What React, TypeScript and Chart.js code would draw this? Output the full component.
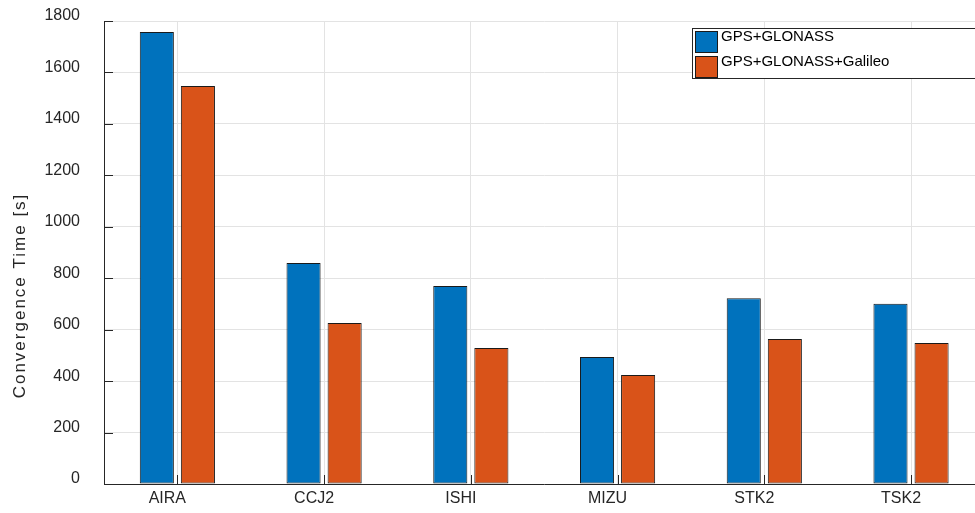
import React, { useEffect, useRef } from "react";
import { Chart, registerables } from "chart.js";

Chart.register(...registerables);

const stations = ["AIRA", "CCJ2", "ISHI", "MIZU", "STK2", "TSK2"];
const seriesNames = ["GPS+GLONASS", "GPS+GLONASS+Galileo"];
const gpsGlonass = [1757, 859, 770, 494, 722, 701];
const gpsGlonassGalileo = [1547, 626, 529, 424, 564, 548];
const yTicks = [0, 200, 400, 600, 800, 1000, 1200, 1400, 1600, 1800];
const yTitle = "Convergence Time [s]";

const BLUE = "#0072BD";
const ORANGE = "#D95319";
const AXIS = "#262626";
const FONT = "'Liberation Sans', Arial, sans-serif";

const innerTicks = {
  id: "innerTicks",
  afterDraw(chart: any) {
    const ctx = chart.ctx;
    const x = chart.scales.x;
    const y = chart.scales.y;
    const area = chart.chartArea;
    ctx.save();
    ctx.strokeStyle = AXIS;
    ctx.lineWidth = 1;
    ctx.beginPath();
    y.ticks.forEach((t: any) => {
      const py = Math.round(y.getPixelForValue(t.value)) + 0.5;
      ctx.moveTo(area.left, py);
      ctx.lineTo(area.left + 9, py);
    });
    stations.forEach((_, i) => {
      const px = Math.round(x.getPixelForValue(i)) + 0.5;
      ctx.moveTo(px, area.bottom);
      ctx.lineTo(px, area.bottom - 9);
    });
    ctx.stroke();
    // y-axis title
    ctx.translate(20, (area.top + area.bottom) / 2 + 43);
    ctx.rotate(-Math.PI / 2);
    ctx.font = `17px ${FONT}`;
    (ctx as any).letterSpacing = "2px";
    ctx.fillStyle = AXIS;
    ctx.textAlign = "center";
    ctx.textBaseline = "middle";
    ctx.fillText(yTitle, 0, 0);
    ctx.restore();
  },
};

const customLegend = {
  id: "customLegend",
  afterDraw(chart: any) {
    const ctx = chart.ctx;
    ctx.save();
    const left = 692.5;
    const top = 28.5;
    const bottom = 78.5;
    ctx.fillStyle = "#ffffff";
    ctx.fillRect(left, top, 310, bottom - top);
    ctx.strokeStyle = AXIS;
    ctx.lineWidth = 1;
    ctx.strokeRect(left, top, 310, bottom - top);
    const colors = [BLUE, ORANGE];
    ctx.font = `15px ${FONT}`;
    ctx.textBaseline = "alphabetic";
    ctx.textAlign = "left";
    seriesNames.forEach((name, i) => {
      const sy = 31 + i * 25;
      ctx.fillStyle = colors[i];
      ctx.fillRect(695.5, sy + 0.5, 22, 21);
      ctx.strokeStyle = "#1a1a1a";
      ctx.strokeRect(695.5, sy + 0.5, 22, 21);
      ctx.fillStyle = "#000000";
      ctx.fillText(name, 721, sy + 10);
    });
    ctx.restore();
  },
};

export default function App() {
  const ref = useRef<HTMLCanvasElement>(null);
  useEffect(() => {
    if (!ref.current) return;
    const chart = new Chart(ref.current, {
      type: "bar",
      data: {
        labels: stations,
        datasets: [
          {
            label: seriesNames[0],
            data: gpsGlonass,
            backgroundColor: BLUE,
            borderColor: "#1a1a1a",
            borderWidth: 1,
            borderSkipped: false,
          },
          {
            label: seriesNames[1],
            data: gpsGlonassGalileo,
            backgroundColor: ORANGE,
            borderColor: "#1a1a1a",
            borderWidth: 1,
            borderSkipped: false,
          },
        ],
      },
      options: {
        animation: false,
        responsive: false,
        maintainAspectRatio: false,
        datasets: { bar: { categoryPercentage: 0.56, barPercentage: 0.83 } },
        layout: { padding: { left: 0, right: 15.6, top: 21, bottom: 0 } },
        plugins: {
          legend: { display: false },
          tooltip: { enabled: false },
        },
        scales: {
          x: {
            grid: { offset: false, color: "#e3e3e3", drawTicks: false },
            border: { color: AXIS, width: 1 },
            ticks: {
              color: AXIS,
              font: { family: FONT, size: 16 },
              padding: 5,
              labelOffset: -10,
            },
            afterFit(scale: any) {
              scale.height = 29;
            },
          },
          y: {
            min: 0,
            max: 1800,
            afterBuildTicks(scale: any) {
              scale.ticks = yTicks.map((v) => ({ value: v }));
            },
            grid: {
              color: "#e3e3e3",
              drawTicks: true,
              tickLength: 20,
              tickColor: "rgba(0,0,0,0)",
            },
            border: { color: AXIS, width: 1 },
            ticks: {
              color: AXIS,
              font: { family: FONT, size: 16 },
              padding: 4,
              labelOffset: -5,
              callback: (v: any) => String(v),
            },
            afterFit(scale: any) {
              scale.width = 104;
            },
          },
        },
      },
      plugins: [innerTicks, customLegend],
    });
    return () => chart.destroy();
  }, []);
  return (
    <div
      style={{
        position: "fixed",
        left: 0,
        top: 0,
        width: 975,
        height: 513,
        overflow: "hidden",
        background: "#fff",
      }}
    >
      <canvas ref={ref} width={1000} height={513} style={{ display: "block" }} />
    </div>
  );
}
